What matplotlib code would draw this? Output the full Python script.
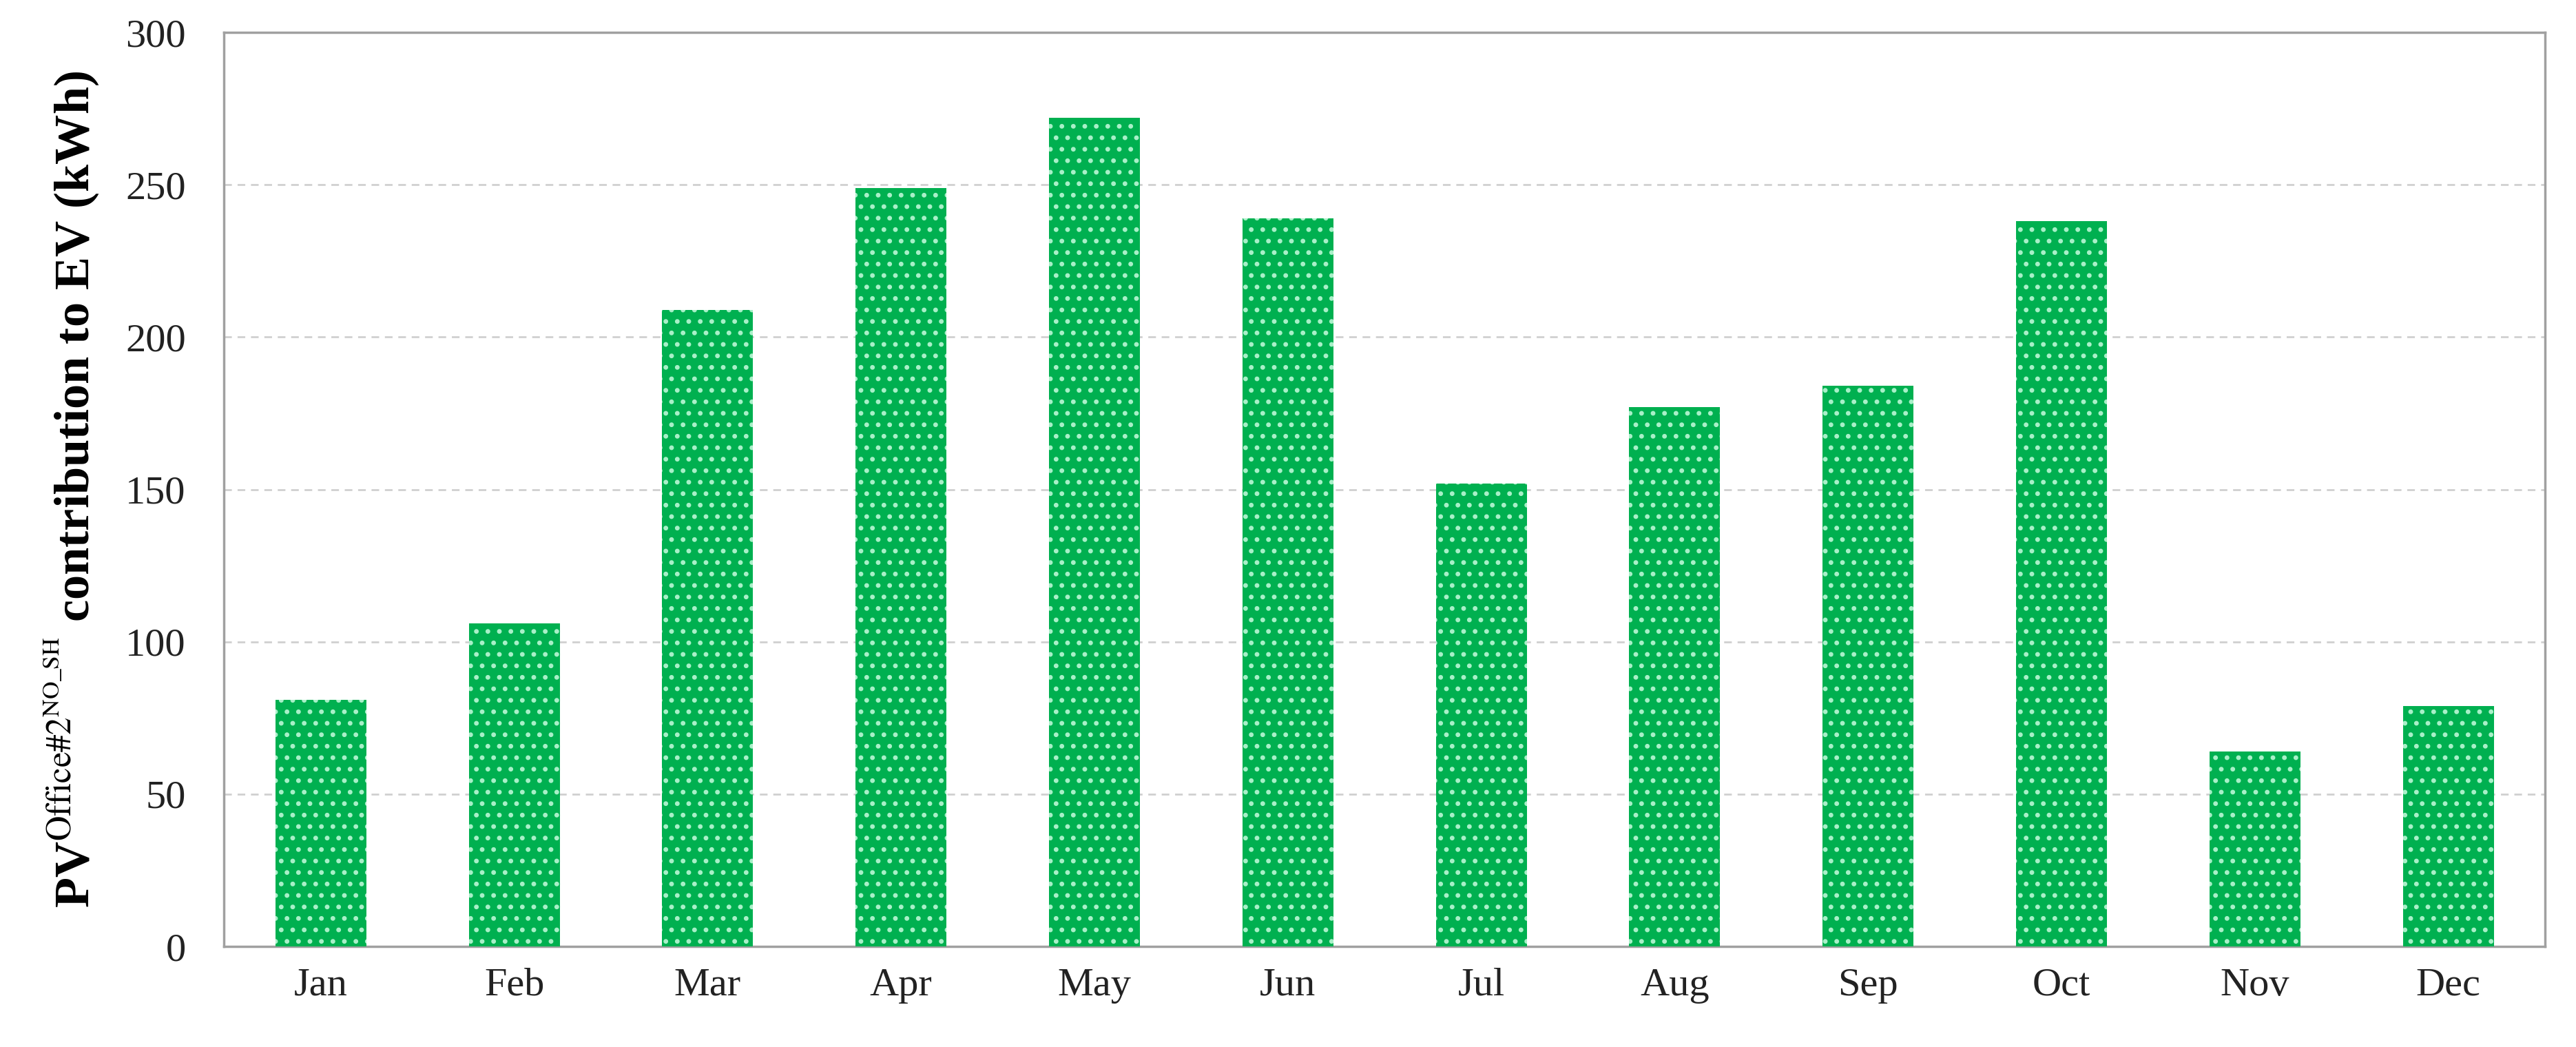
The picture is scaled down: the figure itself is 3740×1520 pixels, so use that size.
import matplotlib
matplotlib.use("Agg")
import matplotlib.pyplot as plt

months = ["Jan", "Feb", "Mar", "Apr", "May", "Jun", "Jul", "Aug", "Sep", "Oct", "Nov", "Dec"]
pv_to_ev = [81, 106, 209, 249, 272, 239, 152, 177, 184, 238, 64, 79]

plt.rcParams["font.family"] = "Liberation Serif"
plt.rcParams["mathtext.fontset"] = "stix"
plt.rcParams["hatch.color"] = "#a8f0c8"
plt.rcParams["hatch.linewidth"] = 2.5

fig = plt.figure(figsize=(37.4, 15.2), dpi=100)
ax = fig.add_axes([0.087, 0.096, 0.901, 0.873])

x = range(len(months))
ax.bar(x, pv_to_ev, width=0.47, color="#00b050", hatch=".", edgecolor="#a8f0c8",
       linewidth=0, zorder=3)

ax.set_xlim(-0.5, len(months) - 0.5)
ax.set_ylim(0, 300)
ax.set_yticks(range(0, 301, 50))
ax.set_xticks(list(x))
ax.set_xticklabels(months)
ax.tick_params(axis="both", labelsize=42, length=0, colors="#222222")
ax.tick_params(axis="x", pad=22)
ax.tick_params(axis="y", pad=40)
ax.grid(axis="y", color="#d0d0d0", linestyle=(0, (4, 3)), linewidth=2, zorder=0)
for s in ax.spines.values():
    s.set_color("#a0a0a0")
    s.set_linewidth(2.5)

ax.set_ylabel(r"PV$^{\mathrm{Office\#2}^{\mathrm{NO\_SH}}}$ contribution to EV (kWh)",
              fontsize=52, fontweight="bold", labelpad=25)

fig.savefig("out.png")
